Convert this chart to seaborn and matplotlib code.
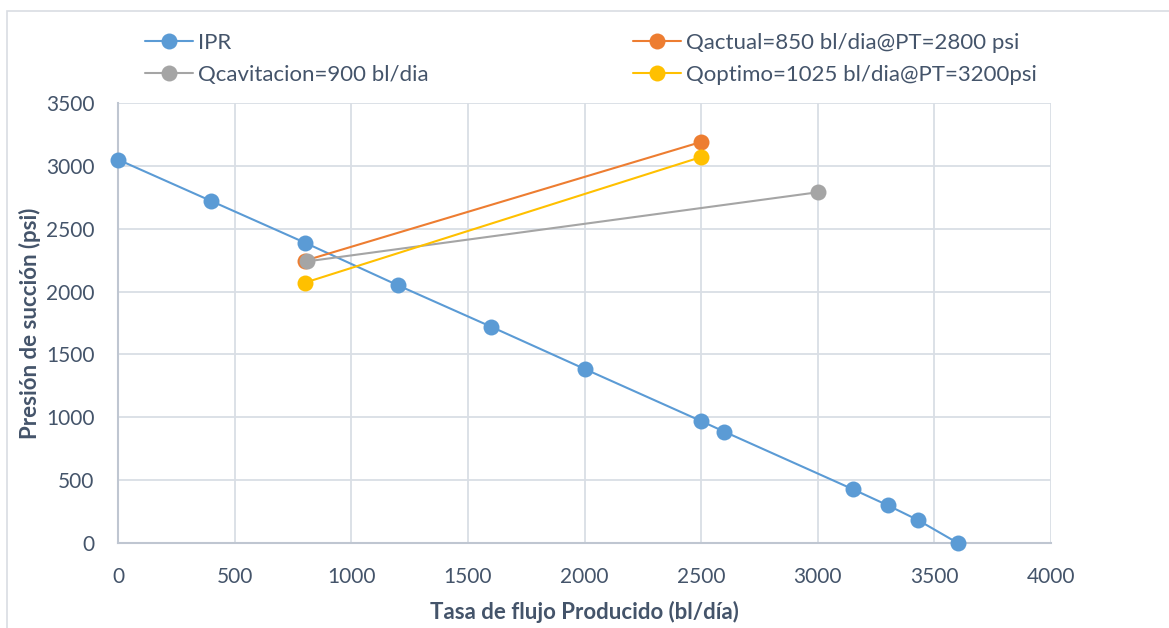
import matplotlib
matplotlib.use("Agg")
import matplotlib.pyplot as plt
import seaborn as sns
import pandas as pd
from matplotlib.patches import Rectangle

# ---- data ----
ipr_q = [0, 400, 800, 1200, 1600, 2000, 2500, 2600, 3150, 3300, 3430, 3600]
ipr_p = [3050, 2720, 2390, 2050, 1720, 1385, 970, 885, 428, 300, 182, 0]
actual_q = [800, 2500]
actual_p = [2245, 3190]
cav_q = [810, 3000]
cav_p = [2240, 2790]
opt_q = [800, 2500]
opt_p = [2070, 3070]

labels = ["IPR", "Qactual=850 bl/dia@PT=2800 psi", "Qcavitacion=900 bl/dia",
          "Qoptimo=1025 bl/dia@PT=3200psi"]
colors = ["#5B9BD5", "#ED7D31", "#A5A5A5", "#FFC000"]
series = [(ipr_q, ipr_p), (actual_q, actual_p), (cav_q, cav_p), (opt_q, opt_p)]

sns.set_theme(style="white")
plt.rcParams['font.family'] = ['Lato', 'DejaVu Sans']
txt = "#44546A"

fig = plt.figure(figsize=(11.69, 6.28), dpi=100)
W, H = 1169, 628
ax = fig.add_axes([118 / W, 1 - 543 / H, (1051 - 118) / W, (543 - 103) / H])

handles = {}
for i, ((q, p), lab, col) in enumerate(zip(series, labels, colors)):
    df = pd.DataFrame({"q": q, "p": p})
    sns.lineplot(data=df, x="q", y="p", ax=ax, color=col, linewidth=1.5,
                 marker="o", markersize=11.5, markeredgewidth=0, sort=False,
                 zorder=3 + i, label=lab, legend=False, clip_on=False)
    handles[lab] = ax.lines[-1]

ax.set_xlim(0, 4000)
ax.set_ylim(0, 3500)
ax.set_xticks(range(0, 4001, 500))
ax.set_yticks(range(0, 3501, 500))
ax.grid(True, color="#D9DEE5", linewidth=1.3)
ax.set_axisbelow(True)
for s in ["top", "right"]:
    ax.spines[s].set_visible(False)
for s in ["left", "bottom"]:
    ax.spines[s].set_color("#BFC6D1")
    ax.spines[s].set_linewidth(1.5)
ax.tick_params(axis="both", colors=txt, labelsize=15, length=0, pad=17)
ax.set_xlabel("Tasa de flujo Producido (bl/día)", color=txt, fontsize=16,
              fontweight="bold")
ax.set_ylabel("Presión de succión (psi)", color=txt, fontsize=16,
              fontweight="bold")
ax.yaxis.set_label_coords(-0.0825, 0.5)
ax.xaxis.set_label_coords(0.5, -0.131)

# legends (two columns)
leg_kw = dict(frameon=False, fontsize=16, labelcolor=txt, handlelength=2.15,
              handletextpad=0.25, labelspacing=0.55, borderpad=0,
              borderaxespad=0, loc="upper left")
l1 = fig.legend([handles[labels[0]], handles[labels[2]]], [labels[0], labels[2]],
                bbox_to_anchor=(145 / W, 1 - 33 / H), **leg_kw)
l2 = fig.legend([handles[labels[1]], handles[labels[3]]], [labels[1], labels[3]],
                bbox_to_anchor=(633 / W, 1 - 33 / H), **leg_kw)

# outer frame
fig.patches.append(Rectangle((7 / W, -0.05), 1.2, 1 - 11 / H + 0.05,
                             transform=fig.transFigure, fill=False,
                             edgecolor="#D9DDE3", linewidth=1.2))

fig.savefig("out.png", dpi=100, facecolor="white")
